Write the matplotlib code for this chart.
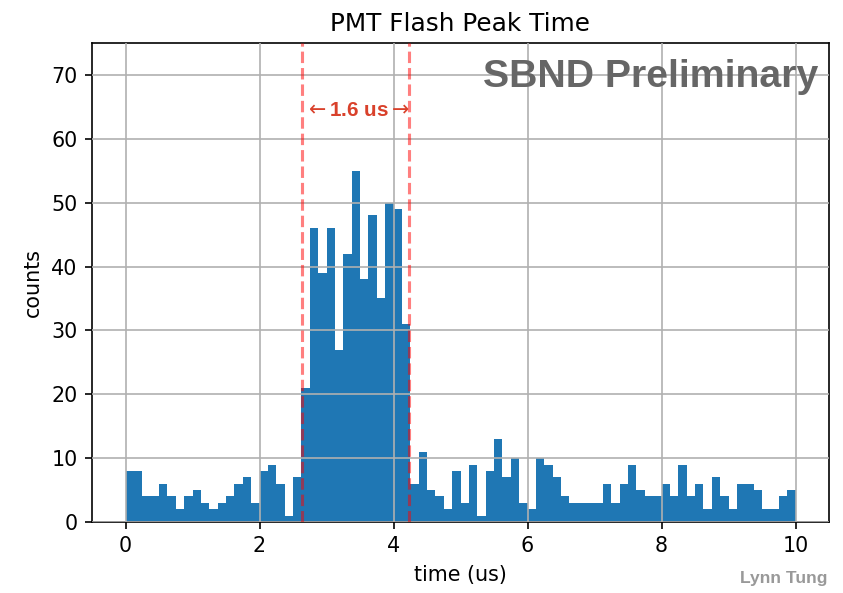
import numpy as np
import matplotlib
matplotlib.use('Agg')
import matplotlib.pyplot as plt

# ==========================================
# data
# ==========================================
bin_edges = np.linspace(0, 10, 81)
counts = [8, 8, 4, 4, 6, 4, 2, 4, 5, 3, 2, 3, 4, 6, 7, 3,
          8, 9, 6, 1, 7,
          21, 46, 39, 46, 27, 42, 55, 38, 48, 35, 50, 49, 31,
          6, 11, 5, 4, 2, 8, 3, 9, 1, 8, 13, 7, 10, 3, 2, 10, 9, 7, 4, 3, 3, 3, 3,
          6, 3, 6, 9, 5, 4, 4, 6, 4, 9, 4, 6, 2, 7, 4, 2, 6, 6, 5, 2, 2, 4, 5]
window = [2.63, 4.23]
window_label = r"$\leftarrow$1.6 us$\rightarrow$"

# the reference looks like a default matplotlib plot rendered at ~148.6 dpi
DPI = 148.6
fig = plt.figure(figsize=(843 / DPI, 593 / DPI), dpi=DPI)
ax = fig.add_axes([92 / 843, 1 - 522 / 593, (829 - 92) / 843, (522 - 43) / 593])

centers = 0.5 * (bin_edges[:-1] + bin_edges[1:])
ax.hist(centers, bins=bin_edges, weights=counts, color='#1f77b4', zorder=1)

for x in window:
    ax.axvline(x, color='red', alpha=0.5, ls='--', lw=1.5, zorder=3)

ax.text(np.mean(window) + 0.02, 64.4, window_label, color='#d9412b', fontsize=10,
        fontweight='bold', ha='center', va='center',
        family=['Liberation Sans', 'DejaVu Sans'])

ax.text(0.985, 0.93, "SBND Preliminary", transform=ax.transAxes, ha='right',
        va='center', fontsize=19, fontweight='bold', color='#666666',
        family=['Liberation Sans'])

fig.text(0.982, 0.012, "Lynn Tung", ha='right', va='bottom', fontsize=8.5,
         fontweight='bold', color='#999999', family=['Liberation Sans'])

ax.grid(True, zorder=2)
ax.set_axisbelow(False)
ax.set_xlim(-0.5, 10.5)
ax.set_ylim(0, 75)
ax.set_xticks([0, 2, 4, 6, 8, 10])
ax.set_yticks(range(0, 80, 10))
ax.set_xlabel("time (us)")
ax.set_ylabel("counts")
ax.set_title("PMT Flash Peak Time")

plt.savefig('out.png', dpi=DPI)
